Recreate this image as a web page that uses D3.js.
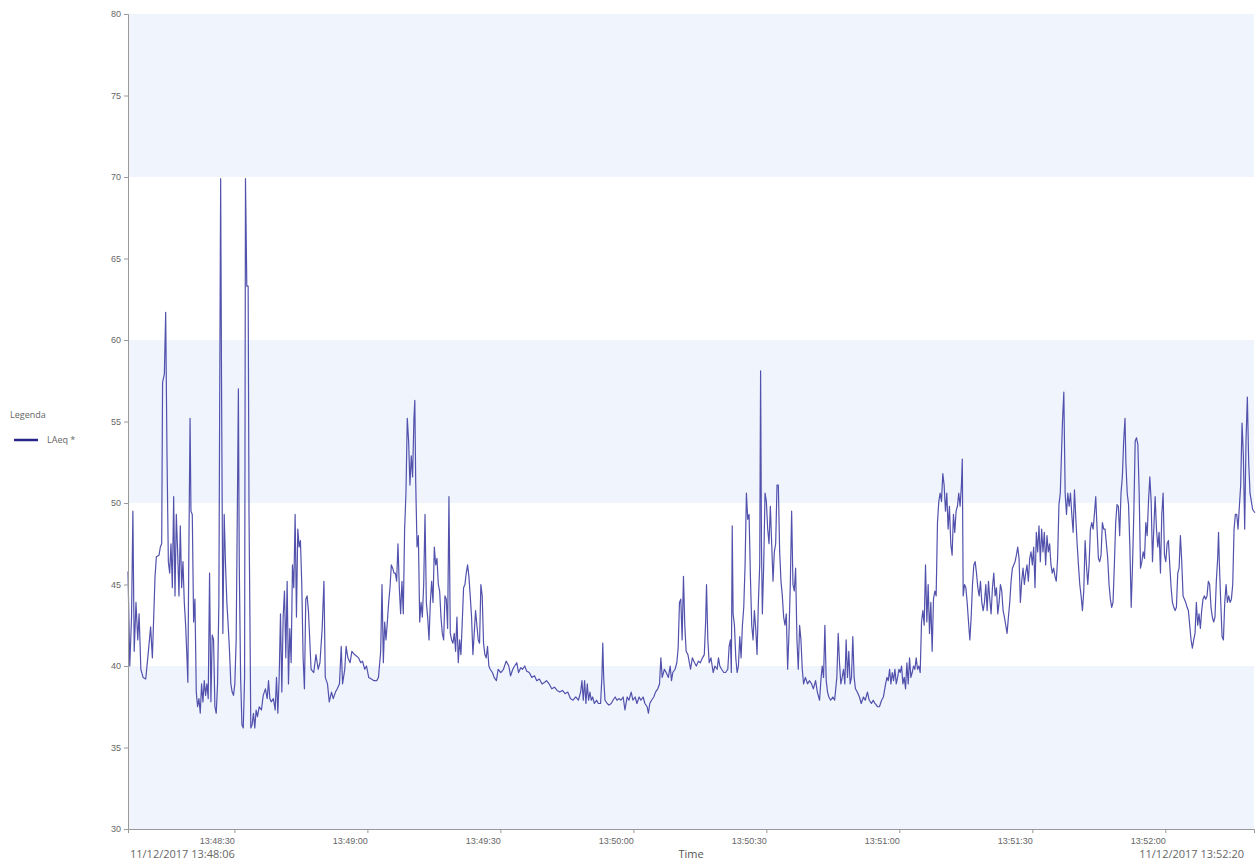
<!DOCTYPE html>
<html>
<head>
<meta charset="utf-8">
<script src="https://cdn.jsdelivr.net/npm/d3@7"></script>
<style>
  body { margin: 0; background: #fff; }
  svg { font-family: "Segoe UI", "Open Sans", "Noto Sans", sans-serif; }
  .eixo path, .eixo line { stroke: #999; }
  .eixo text { fill: #666; font-size: 9px; }
</style>
</head>
<body>
<svg id="grafico"></svg>
<script>
//Dados (segundos desde 13:48:06 e nível LAeq em dB)
var segundos = [
  0.0,0.4,0.8,1.1,1.4,1.8,2.2,2.5,2.9,3.4,4.0,4.6,5.1,5.5,6.1,6.4,7.0,7.3,7.6,7.8,8.2,8.5,8.8,9.1,9.4,9.7,10.0,10.3,10.6,10.9,
  11.2,11.5,11.8,12.1,12.4,12.7,13.0,13.3,13.5,13.7,14.0,14.2,14.5,14.8,15.1,15.4,15.7,16.0,16.3,16.6,16.9,17.2,17.5,17.8,18.1,18.4,18.7,19.0,19.3,19.6,
  19.9,20.2,20.5,20.7,20.9,21.1,21.4,21.7,22.0,22.3,22.6,22.9,23.2,23.5,23.8,24.1,24.4,24.7,24.9,25.1,25.4,25.7,26.0,26.3,26.5,26.8,27.1,27.3,27.5,27.7,
  28.0,28.3,28.6,28.9,29.2,29.6,30.1,30.5,31.0,31.4,31.7,32.0,32.3,32.8,33.2,33.5,33.8,34.1,34.4,34.7,35.0,35.3,35.6,35.9,36.2,36.5,36.8,37.1,37.4,37.7,
  38.0,38.3,38.6,38.9,39.2,39.5,39.8,40.1,40.4,40.7,41.0,41.3,
  41.9,42.4,42.9,43.3,43.8,44.2,44.5,45.0,45.4,45.9,46.3,46.8,47.2,47.7,48.1,48.4,48.9,49.2,49.6,50.1,50.5,51.1,51.6,52.0,52.5,52.9,53.4,53.8,54.3,54.9,
  55.5,56.1,56.5,57.0,57.3,57.6,57.9,58.2,58.5,58.8,59.1,59.4,59.7,60.0,60.3,60.6,60.9,61.2,61.5,61.8,62.1,62.4,62.7,63.0,63.3,63.6,63.9,64.2,64.5,64.7,
  64.9,65.2,65.5,65.8,66.1,66.4,66.7,67.0,67.3,67.6,67.9,68.2,68.5,68.8,69.1,69.4,69.7,70.0,70.3,70.6,70.9,71.2,71.5,71.8,72.1,72.4,72.7,73.0,73.3,73.6,
  73.9,74.2,74.5,74.8,75.1,75.4,75.7,76.0,76.3,76.6,76.9,77.2,77.5,77.8,78.1,78.4,78.7,79.0,79.3,79.6,79.9,80.2,80.5,80.8,81.1,81.4,81.7,82.2,82.6,83.1,83.5,
  84.1,84.7,85.3,85.9,86.3,86.8,87.2,87.7,88.1,88.6,89.0,89.5,89.9,90.5,91.1,91.7,92.2,92.8,93.4,94.0,94.4,95.0,95.6,96.2,96.8,97.4,98.0,98.6,99.2,99.8,
  100.4,101.0,101.6,102.1,102.4,102.7,103.0,103.3,103.6,103.9,104.2,104.5,104.8,105.2,105.7,106.1,106.6,106.9,107.1,107.3,107.6,108.1,108.5,109.0,109.4,109.9,110.3,110.8,111.2,111.7,
  112.1,112.6,113.0,113.5,113.9,114.4,114.8,115.3,115.7,116.2,116.6,117.1,117.4,117.7,118.1,118.6,119.0,119.5,119.9,120.2,120.5,121.0,121.4,121.9,122.3,122.6,122.9,123.4,123.8,124.1,
  124.4,124.7,125.0,125.3,125.6,125.9,
  126.3,126.9,127.3,127.8,128.2,128.7,129.1,129.6,130.0,130.3,130.5,130.8,131.1,131.5,132.0,132.4,132.9,133.2,133.5,133.9,134.4,134.8,135.3,135.6,135.9,136.1,136.3,136.5,136.8,137.1,
  137.4,137.7,138.0,138.3,138.6,138.9,139.2,139.5,139.8,140.1,140.4,140.7,141.0,141.3,141.6,141.9,142.2,142.5,142.7,142.9,143.1,143.4,143.7,144.0,144.3,144.6,144.9,145.2,145.5,145.8,
  146.1,146.4,146.7,147.0,147.3,147.6,147.9,148.2,148.5,148.8,149.1,149.4,149.7,150.0,150.3,150.6,150.9,151.2,151.5,151.8,152.1,152.4,152.8,153.3,153.7,154.2,154.6,155.1,155.5,156.0,
  156.3,156.6,156.9,157.2,157.5,157.8,158.1,158.5,159.0,159.4,159.9,160.2,160.5,160.8,161.1,161.4,161.7,162.0,162.3,162.6,162.9,163.2,163.5,163.8,164.1,164.5,165.0,165.4,165.9,166.3,
  166.8,167.2,167.7,168.1,
  168.5,169.1,169.5,170.0,170.4,170.9,171.2,171.5,171.8,172.1,172.4,172.7,173.0,173.3,173.6,173.9,174.2,174.5,174.8,175.1,175.4,175.7,176.0,176.3,176.6,176.9,177.2,177.5,177.8,178.1,
  178.4,178.7,179.0,179.3,179.6,179.9,180.2,180.5,180.8,181.1,181.4,181.7,182.0,182.3,182.6,182.9,183.2,183.5,183.8,184.1,184.4,184.7,185.0,185.3,185.6,185.9,186.2,186.5,186.8,187.1,
  187.4,187.7,188.0,188.2,188.4,188.7,189.0,189.3,189.6,189.9,190.2,190.5,190.8,191.1,191.4,191.7,192.0,192.3,192.6,192.9,193.2,193.5,193.8,194.1,194.4,194.7,195.0,195.3,195.6,195.9,
  196.2,196.5,196.8,197.1,197.4,197.7,198.0,198.3,198.6,198.9,199.2,199.5,199.8,200.1,200.4,200.7,201.0,201.3,201.6,201.9,202.2,202.5,202.8,203.1,203.4,203.7,204.0,204.3,204.6,204.9,
  205.2,205.5,205.8,206.1,206.4,206.7,207.0,207.3,207.6,207.9,208.2,208.5,208.8,209.1,209.4,209.7,210.0,210.3,
  210.8,211.1,211.4,211.7,212.0,212.3,212.6,212.9,213.2,213.5,213.8,214.1,214.4,214.7,215.0,215.3,215.6,215.9,216.2,216.5,216.8,217.1,217.4,217.7,218.0,218.3,218.6,218.9,219.2,219.5,
  219.8,220.1,220.4,220.7,221.0,221.3,221.6,221.9,222.2,222.5,222.8,223.1,223.4,223.7,224.0,224.3,224.6,224.9,225.1,225.4,225.7,226.0,226.3,226.6,226.9,227.2,227.5,227.8,228.1,228.4,
  228.7,229.0,229.3,229.6,229.9,230.2,230.5,230.8,231.1,231.4,231.7,232.0,232.3,232.6,232.9,233.2,233.5,233.8,234.1,234.4,234.7,235.0,235.3,235.6,235.9,236.2,236.5,236.8,237.1,237.4,
  237.7,238.0,238.3,238.6,238.9,239.2,239.5,239.8,240.1,240.4,240.7,241.0,241.3,241.6,241.9,242.2,242.5,242.8,243.1,243.4,243.7,244.0,244.3,244.6,244.9,245.2,245.5,245.8,246.0,246.2,
  246.5,246.8,247.1,247.4,247.7,248.0,248.3,248.6,248.9,249.2,249.5,249.8,250.1,250.4,250.7,251.0,251.3,251.6,251.9,252.2,252.5,252.8,253.1,253.4,253.7,254.2
];

var laeq = [
  45.8,40.0,43.0,49.5,40.9,43.9,41.6,43.2,39.8,39.3,39.2,40.9,42.4,40.5,45.5,46.7,46.8,47.3,47.5,57.4,57.9,61.7,52.9,46.4,45.7,47.5,44.8,50.4,44.3,49.3,
  47.0,44.3,48.6,44.8,46.4,43.9,42.5,40.5,39.0,46.2,55.2,49.5,49.3,42.7,44.1,38.4,37.5,38.0,37.1,38.9,37.8,39.1,38.2,38.9,38.0,45.7,37.8,41.9,41.6,37.5,
  37.1,38.9,43.9,57.4,69.9,57.4,42.0,49.3,46.2,43.9,42.5,40.9,38.9,38.4,38.2,38.9,41.6,50.6,57.0,46.2,39.3,36.4,36.2,39.3,69.9,63.3,63.3,49.3,43.0,36.2,
  36.4,37.1,36.2,37.3,36.9,37.5,37.3,38.2,38.6,38.0,39.1,38.0,37.8,38.0,37.3,39.3,37.1,39.3,43.2,38.4,43.0,44.6,40.5,45.2,38.9,42.3,40.2,46.2,44.8,49.3,
  43.0,48.4,47.3,47.7,45.0,40.5,38.6,44.1,44.3,43.4,41.6,39.8,
  39.6,40.7,39.8,40.2,42.3,45.2,39.3,38.9,37.8,38.4,38.0,38.4,38.6,38.9,41.2,38.9,39.8,41.2,40.5,40.2,40.9,40.7,40.6,40.5,40.2,40.3,39.8,40.0,39.3,39.2,
  39.1,39.1,39.3,40.9,45.0,40.2,42.7,41.6,42.7,43.9,44.8,46.2,46.0,45.7,45.7,45.2,47.5,44.8,43.2,45.2,43.2,48.4,50.6,55.2,53.8,51.1,52.9,51.6,55.2,56.3,
  51.3,47.3,48.0,42.7,43.9,43.0,45.0,49.3,43.9,43.0,41.6,43.9,45.2,43.9,47.3,46.2,46.6,45.0,44.6,43.0,42.0,41.6,44.3,44.1,42.3,50.4,42.0,41.6,41.4,42.0,
  40.9,43.0,40.2,41.6,40.7,42.7,44.8,45.0,45.7,46.2,45.5,44.3,43.0,40.7,42.0,43.4,42.5,41.6,41.4,45.0,44.3,41.4,40.7,40.5,41.2,40.0,39.8,39.6,39.3,39.1,39.8,
  39.6,39.8,40.3,40.0,39.4,39.8,40.0,40.2,39.6,39.9,39.8,40.0,39.7,39.6,39.3,39.4,39.1,39.2,38.9,39.0,39.1,38.9,38.6,38.7,38.5,38.4,38.5,38.3,38.4,38.0,
  37.9,38.1,37.9,38.4,39.1,37.9,39.1,37.7,38.9,37.9,38.4,37.9,38.1,37.7,37.9,37.7,37.7,39.3,41.4,39.3,37.9,37.7,37.6,37.7,37.9,38.1,37.9,38.0,37.9,38.1,
  37.3,38.1,37.9,38.4,37.9,38.1,37.7,38.1,37.9,38.1,37.7,37.5,37.1,37.7,37.9,38.1,38.4,38.6,38.9,40.5,39.3,39.8,39.6,39.3,40.0,39.1,39.6,39.8,40.2,41.1,
  43.9,44.1,41.6,45.5,42.5,40.9,
  40.7,39.8,40.5,40.2,40.0,40.3,40.2,40.5,40.7,42.7,45.0,41.6,40.2,40.5,39.6,40.0,39.8,40.5,40.0,39.8,39.6,39.6,39.8,41.2,41.6,39.6,48.6,43.2,42.5,40.5,
  39.6,40.0,41.8,40.5,42.5,43.6,46.2,50.6,49.0,49.3,45.5,42.5,41.6,43.4,42.3,40.7,43.9,46.2,58.1,47.3,43.2,46.2,50.6,50.1,48.4,47.5,49.8,47.5,45.2,47.0,
  47.5,51.1,51.1,47.0,45.2,44.3,43.0,42.5,43.2,39.8,42.0,45.0,49.5,45.0,44.6,46.0,41.6,39.8,42.5,41.6,39.8,38.9,39.3,38.9,39.1,38.9,38.6,39.1,38.4,37.9,
  39.1,40.0,39.3,42.5,39.1,38.4,38.1,37.9,38.1,37.9,39.3,42.0,40.2,38.9,39.3,39.8,38.9,41.6,39.3,40.9,38.9,39.3,41.8,39.3,38.6,38.4,38.1,37.7,38.1,37.9,
  38.4,37.9,37.7,37.9,
  37.7,37.5,37.5,37.9,38.1,38.9,39.3,39.1,39.8,38.9,39.6,39.1,39.8,38.9,39.3,39.8,39.6,40.0,38.9,39.3,38.6,40.2,38.9,40.5,39.3,39.6,40.0,39.8,40.5,39.8,
  40.0,39.6,42.7,43.4,42.5,46.2,42.7,45.0,42.0,43.9,40.9,44.1,44.6,44.3,48.8,50.1,50.6,50.1,51.8,51.1,49.5,50.6,48.4,49.8,47.5,46.8,49.3,48.2,49.5,49.8,
  50.6,49.8,51.1,52.7,44.3,45.0,44.8,43.9,42.7,41.6,43.0,45.0,46.2,46.4,45.7,44.8,44.3,45.2,43.9,43.4,43.9,45.0,43.4,45.2,44.1,43.2,44.8,45.7,44.3,44.8,
  43.2,43.9,45.0,44.6,43.4,43.0,42.5,42.0,43.0,43.9,45.2,46.0,46.2,46.4,46.8,47.3,46.6,43.9,45.2,46.0,45.0,45.7,46.2,45.2,46.6,47.0,46.2,47.3,44.8,48.2,
  47.0,48.6,46.4,48.4,47.0,48.2,46.2,48.0,47.0,47.5,46.2,45.7,46.0,45.5,45.2,46.6,49.9,50.6,
  55.0,56.8,50.6,49.3,50.6,49.8,50.6,49.3,48.2,50.8,49.1,47.5,46.2,45.0,44.3,43.4,44.6,47.7,46.2,45.0,46.2,48.4,48.8,48.4,49.3,50.4,48.4,46.6,46.4,46.8,
  48.8,48.4,48.4,47.5,46.6,45.0,44.1,43.6,43.9,46.2,48.8,49.9,49.8,48.0,50.6,51.6,53.8,55.2,52.5,50.6,49.9,47.3,43.6,46.2,49.5,53.8,54.0,53.6,50.6,46.0,
  46.4,47.0,46.6,48.8,48.0,50.1,51.6,50.1,46.4,48.4,50.4,48.4,47.3,48.2,45.7,49.3,50.6,46.8,46.4,47.5,47.7,46.2,44.8,43.9,43.6,43.4,43.6,45.7,46.0,48.0,
  46.4,44.3,44.1,43.9,43.6,43.4,42.5,41.6,41.1,41.6,42.0,43.9,42.5,43.2,42.3,43.4,44.1,44.3,44.1,44.3,45.2,45.0,43.6,43.0,42.7,43.0,45.2,46.6,48.2,46.2,
  43.9,41.8,41.6,43.9,45.0,43.9,44.3,43.9,44.1,45.0,48.4,49.3,49.3,48.4,49.8,51.1,54.9,52.9,48.4,53.8,56.5,52.5,50.6,50.1,49.6,49.4
];

//Faixas de fundo e ticks
var faixas = [[30, 40], [50, 60], [70, 80]];
var ticksY = [30, 35, 40, 45, 50, 55, 60, 65, 70, 75, 80];
var rotuloInicio = '11/12/2017 13:48:06';
var rotuloFim = '11/12/2017 13:52:20';
var inicio = new Date(2017, 10, 12, 13, 48, 6);
var fim = new Date(2017, 10, 12, 13, 52, 20);

var largura = 1258, altura = 863;
var margem = { esquerda: 128, direita: 4, superior: 14, inferior: 34 };
var larguraPlotagem = largura - margem.esquerda - margem.direita;
var alturaPlotagem = altura - margem.superior - margem.inferior;

var svg = d3.select('#grafico')
            .attr('width', largura)
            .attr('height', altura);

var plotagem = svg.append('g')
                  .attr('transform', 'translate(' + margem.esquerda + ',' + margem.superior + ')');

//Escalas
var x = d3.scaleTime().domain([inicio, fim]).range([0, larguraPlotagem]);
var y = d3.scaleLinear().domain([30, 80]).range([alturaPlotagem, 0]);

//Faixas coloridas
plotagem.selectAll('.faixa').data(faixas).enter()
        .append('rect')
        .classed('faixa', true)
        .attr('x', 0)
        .attr('width', larguraPlotagem)
        .attr('y', d => y(d[1]))
        .attr('height', d => y(d[0]) - y(d[1]))
        .attr('fill', '#eff4fd');

//Linha de dados
var dados = segundos.map((s, i) => ({ tempo: new Date(inicio.getTime() + s * 1000), valor: laeq[i] }));
var linha = d3.line().x(d => x(d.tempo)).y(d => y(d.valor));
plotagem.append('path')
        .datum(dados)
        .attr('d', linha)
        .attr('fill', 'none')
        .attr('stroke', '#5252ad')
        .attr('stroke-width', 1.2)
        .attr('stroke-linejoin', 'round');

//Eixos
var eixoY = d3.axisLeft(y).tickValues(ticksY).tickSize(4).tickPadding(3);
plotagem.append('g').classed('eixo', true).call(eixoY);

var eixoX = d3.axisBottom(x)
              .ticks(d3.timeSecond.every(30))
              .tickFormat(d3.timeFormat('%H:%M:%S'))
              .tickSize(4)
              .tickPadding(5);
var gx = plotagem.append('g').classed('eixo', true)
                 .attr('transform', 'translate(0,' + alturaPlotagem + ')')
                 .call(eixoX);
gx.selectAll('.tick text').attr('text-anchor', 'end');

//Rótulos de início e fim
plotagem.append('text')
        .attr('x', 2)
        .attr('y', alturaPlotagem + 29)
        .attr('fill', '#666')
        .style('font-size', '11px')
        .text(rotuloInicio);
plotagem.append('text')
        .attr('x', larguraPlotagem - 10)
        .attr('y', alturaPlotagem + 29)
        .attr('text-anchor', 'end')
        .attr('fill', '#666')
        .style('font-size', '11px')
        .text(rotuloFim);

//Título do eixo X
plotagem.append('text')
        .attr('x', larguraPlotagem / 2)
        .attr('y', alturaPlotagem + 29)
        .attr('text-anchor', 'middle')
        .attr('fill', '#555')
        .style('font-size', '11px')
        .text('Time');

//Legenda
var legenda = svg.append('g').attr('transform', 'translate(10,418)');
legenda.append('text').attr('x', 0).attr('y', 0)
       .attr('fill', '#666').style('font-size', '9px').text('Legenda');
legenda.append('line').attr('x1', 4).attr('x2', 28).attr('y1', 22).attr('y2', 22)
       .attr('stroke', '#25258a').attr('stroke-width', 2.5);
legenda.append('text').attr('x', 37).attr('y', 25)
       .attr('fill', '#666').style('font-size', '9px').text('LAeq *');
</script>
</body>
</html>
